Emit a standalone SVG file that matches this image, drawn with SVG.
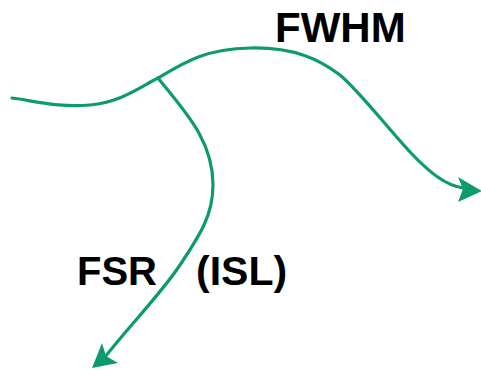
<svg xmlns="http://www.w3.org/2000/svg" width="481" height="372" viewBox="0 0 481 372">
<style>
.c{fill:none;stroke:#0d9a6f;stroke-width:3.2;stroke-linecap:round}
.h{fill:#0d9a6f;stroke:none}
.t{font-family:"Liberation Sans",Arial,sans-serif;font-weight:bold;fill:#000}
</style>
<rect width="481" height="372" fill="#fff"/>
<g id="connectors">
<path class="c" d="M12,98 C35,101 60,108 90,105 C120,102 135,90 158,78 C185,62 205,49 250,48 C295,47 320,60 340,75 C360,92 385,125 410,152 C430,173 445,185 463,188"/>
<polygon class="h" points="482,191 458,177 463,189 458,202"/>
<path class="c" d="M158,78 C185,112 213,140 213,185 C213,215 200,235 180,265 C160,295 130,325 105,357"/>
<polygon class="h" points="92,368 102,343 106,356 118,363"/>
</g>
<g id="fwhm"><text class="t" x="275" y="42" font-size="42">FWHM</text></g>
<g id="fsr"><text class="t" x="77" y="285" font-size="40">FSR</text></g>
<g id="isl"><text class="t" x="196" y="285" font-size="41">(ISL)</text></g>
</svg>
